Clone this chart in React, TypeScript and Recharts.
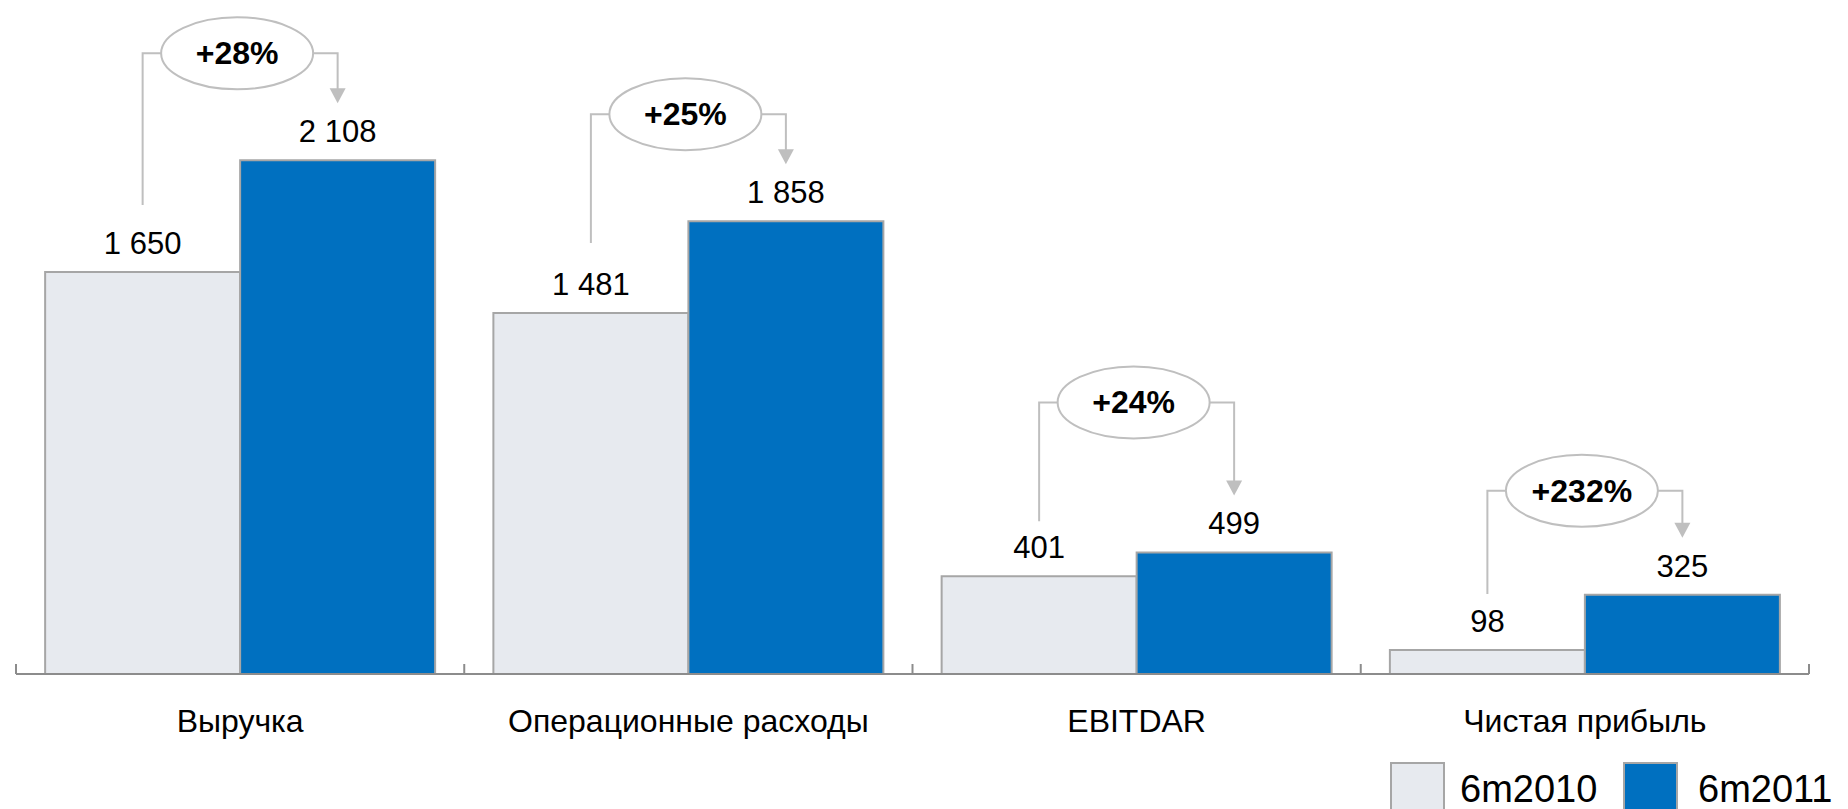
import { BarChart, Bar, XAxis, YAxis, Legend, LabelList } from "recharts";

const categories = ["Выручка", "Операционные расходы", "EBITDAR", "Чистая прибыль"];
const values2010 = [1650, 1481, 401, 98];
const values2011 = [2108, 1858, 499, 325];
const growthLabels = ["+28%", "+25%", "+24%", "+232%"];
const seriesNames = ["6m2010", "6m2011"];

const data = categories.map((name, i) => ({ name, y2010: values2010[i], y2011: values2011[i] }));

const W = 1848;
const H = 809;
const MARGIN = { top: 16, right: 39, bottom: 75, left: 16 };
const BAND = (W - MARGIN.left - MARGIN.right) / categories.length;

// hand tuned offsets for the bracket callouts (px)
const bracketLift = [107, 107, 150, 104];
const leftGap = [67, 70, 55, 56];
const ARROW_GAP = 57;

const LINE = "#bfbfbf";
const BORDER = "#a6a6a6";
const GRAY = "#e7eaef";
const BLUE = "#0070c0";

const fmt = (v: number) =>
  v >= 1000 ? `${Math.floor(v / 1000)} ${String(v % 1000).padStart(3, "0")}` : String(v);

function CategoryTick(props: any) {
  const { x, y, payload, index } = props;
  const half = BAND / 2;
  return (
    <g>
      <line x1={x - half} x2={x - half} y1={y} y2={y - 10} stroke="#8c8c8c" strokeWidth={2} />
      {index === categories.length - 1 && (
        <line x1={x + half} x2={x + half} y1={y} y2={y - 10} stroke="#8c8c8c" strokeWidth={2} />
      )}
      <text x={x} y={y + 58} textAnchor="middle" fontSize={32} fill="#000">
        {payload.value}
      </text>
    </g>
  );
}

function Callout(props: any) {
  const vb = props.viewBox ?? props;
  const { x, y, width, height } = vb;
  const i = props.index;
  if (x == null || i == null) return null;
  const base = y + height;
  const grayTop = base - (height * values2010[i]) / values2011[i];
  const grayCx = x - width / 2;
  const blueCx = x + width / 2;
  const cx = x - 3;
  const cy = y - bracketLift[i];
  const rx = 76;
  const ry = 36;
  const tip = y - ARROW_GAP;
  return (
    <g>
      <polyline
        points={`${grayCx},${grayTop - leftGap[i]} ${grayCx},${cy} ${cx - rx},${cy}`}
        fill="none"
        stroke={LINE}
        strokeWidth={2}
      />
      <polyline
        points={`${cx + rx},${cy} ${blueCx},${cy} ${blueCx},${tip - 14}`}
        fill="none"
        stroke={LINE}
        strokeWidth={2}
      />
      <polygon points={`${blueCx - 8},${tip - 15} ${blueCx + 8},${tip - 15} ${blueCx},${tip}`} fill={LINE} />
      <ellipse cx={cx} cy={cy} rx={rx} ry={ry} fill="#fff" stroke={LINE} strokeWidth={2} />
      <text x={cx} y={cy + 11} textAnchor="middle" fontSize={32} fontWeight="bold" fill="#000">
        {growthLabels[i]}
      </text>
    </g>
  );
}

function LegendContent(props: any) {
  const items = props.payload ?? [];
  return (
    <svg width={463} height={51} style={{ display: "block" }}>
      {items.map((it: any, k: number) => (
        <g key={it.value}>
          <rect x={6 + k * 233} y={5} width={53} height={55} fill={it.color} stroke={BORDER} strokeWidth={2} />
          <text x={75 + k * 238} y={44} fontSize={38} fill="#000">
            {it.value}
          </text>
        </g>
      ))}
    </svg>
  );
}

export default function App() {
  return (
    <div
      style={{
        position: "absolute",
        left: 0,
        top: 0,
        width: W,
        height: H,
        overflow: "hidden",
        background: "#fff",
        fontFamily: "'Liberation Sans', Arial, sans-serif",
      }}
    >
      <BarChart width={W} height={H} data={data} margin={MARGIN} barGap={0} barCategoryGap="6.5%">
        <XAxis
          dataKey="name"
          height={60}
          tickSize={0}
          tickMargin={0}
          tickLine={false}
          axisLine={{ stroke: "#8c8c8c", strokeWidth: 2 }}
          tick={<CategoryTick />}
          interval={0}
        />
        <YAxis hide domain={[0, 2700]} />
        <Legend
          layout="horizontal"
          verticalAlign="middle"
          content={<LegendContent />}
          wrapperStyle={{ left: 1385, top: 758, width: 463, height: 51 }}
        />
        <Bar dataKey="y2010" name={seriesNames[0]} fill={GRAY} stroke={BORDER} strokeWidth={2} isAnimationActive={false}>
          <LabelList dataKey="y2010" position="top" offset={18} fontSize={31} fill="#000" formatter={fmt as any} />
        </Bar>
        <Bar dataKey="y2011" name={seriesNames[1]} fill={BLUE} stroke={BORDER} strokeWidth={2} isAnimationActive={false}>
          <LabelList dataKey="y2011" position="top" offset={18} fontSize={31} fill="#000" formatter={fmt as any} />
          <LabelList dataKey="y2011" content={<Callout />} />
        </Bar>
      </BarChart>
    </div>
  );
}
